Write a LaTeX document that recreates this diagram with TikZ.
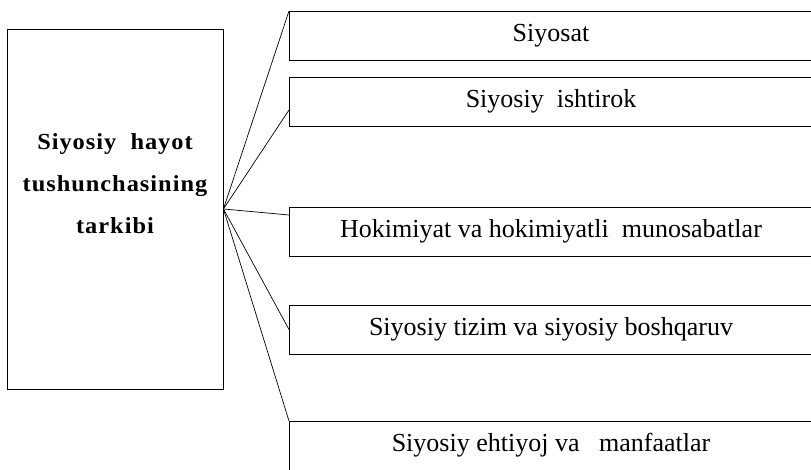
\documentclass[tikz,border=0pt]{standalone}
\usepackage{fontspec}
\setmainfont{Liberation Serif}
\newfontfamily\titlefont[LetterSpace=4.3, FakeStretch=1.06]{Liberation Serif}
\usepackage{tikz}
\usetikzlibrary{positioning, calc}
\tikzstyle{mainbox} = [rectangle, minimum width=216pt, minimum height=360pt, draw=black, line width=0.9pt]
\tikzstyle{maintitle} = [align=center, font=\titlefont\fontsize{23}{42}\selectfont\bfseries]
\tikzstyle{itembox} = [rectangle, minimum width=524pt, minimum height=49pt, text centered, draw=black, line width=0.9pt, outer sep=0pt, font=\fontsize{26}{30}\selectfont]
\tikzstyle{link} = [line width=0.7pt]

\begin{document}
\begin{tikzpicture}[x=1pt, y=-1pt]
\useasboundingbox (0,0) rectangle (811,470);
\clip (0,0) rectangle (811,470);

\node (main) [mainbox] at (115,209) {};
\node (maintext) [maintitle, yshift=25pt] at (main.center) {Siyosiy\ \ hayot\\tushunchasining\\tarkibi};

\node (siyosat) [itembox, anchor=north west] at (289,11) {Siyosat};
\node (ishtirok) [itembox, below=17pt of siyosat] {Siyosiy\ \ ishtirok};
\node (hokimiyat) [itembox, below=81pt of ishtirok] {Hokimiyat va hokimiyatli\ \ munosabatlar};
\node (tizim) [itembox, below=49pt of hokimiyat] {Siyosiy tizim va siyosiy boshqaruv};
\node (ehtiyoj) [itembox, below=67pt of tizim] {Siyosiy ehtiyoj va\ \ \ manfaatlar};

% Links
\draw [link] (main.east) -- (siyosat.north west);
\draw [link] (main.east) -- ($(ishtirok.west)+(0,8.5)$);
\draw [link] (main.east) -- ($(hokimiyat.north west)+(0,8)$);
\draw [link] (main.east) -- (tizim.west);
\draw [link] (main.east) -- (ehtiyoj.north west);

\end{tikzpicture}
\end{document}
